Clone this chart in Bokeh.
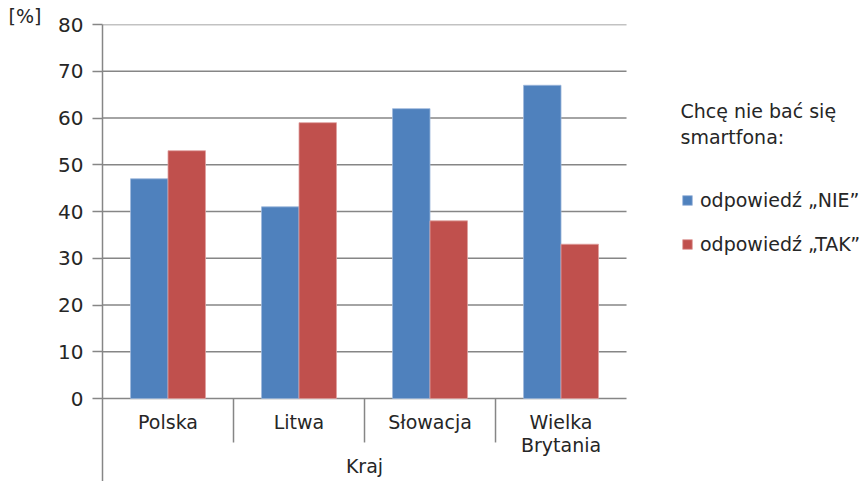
from bokeh.plotting import figure
from bokeh.models import Range1d, FixedTicker, Label, Legend, LegendItem, ColumnDataSource
from bokeh.transform import dodge
from bokeh.core.properties import value
from bokeh.embed import file_html
from bokeh.resources import INLINE

# ---- data ----
categories = ["Polska", "Litwa", "Słowacja", "Wielka\nBrytania"]
nie = [47, 41, 62, 67]
tak = [53, 59, 38, 33]
y_ticks = [0, 10, 20, 30, 40, 50, 60, 70, 80]
series_labels = ["odpowiedź „NIE”", "odpowiedź „TAK”"]
legend_title = ["Chcę nie bać się", "smartfona:"]
x_title = "Kraj"
y_title = "[%]"

FONT = "DejaVu Sans"
TXT = "#262626"
GRID = "#868686"
BLUE = "#4F81BD"
RED = "#C0504D"

ncat = len(categories)
centers = [i + 0.5 for i in range(ncat)]
src = ColumnDataSource(dict(x=centers, nie=nie, tak=tak, cat=categories))

# frame: x from 102px (0) with 131px per category, y: 4.675px per unit, 0 at 398px
p = figure(width=860, height=481, output_backend="svg", toolbar_location=None,
           x_axis_location=None, y_axis_location="left",
           x_range=Range1d(0, 5.786), y_range=Range1d(-17.75, 80),
           min_border_left=102, min_border_right=0, min_border_top=24, min_border_bottom=0)
p.outline_line_color = None
p.background_fill_color = "white"
p.xgrid.visible = False
p.ygrid.visible = False

p.title.text = y_title
p.title.align = "left"
p.title.offset = -94
p.title.standoff = -4
p.title.text_font = FONT
p.title.text_font_size = "19px"
p.title.text_font_style = "normal"
p.title.text_color = TXT

ax = p.yaxis[0]
ax.ticker = FixedTicker(ticks=y_ticks, minor_ticks=[])
ax.axis_line_color = GRID
ax.axis_line_width = 1.5
ax.major_tick_line_color = GRID
ax.major_tick_line_width = 1.5
ax.major_tick_out = 10
ax.major_tick_in = 0
ax.minor_tick_line_color = None
ax.major_label_standoff = 9
ax.major_label_text_font = FONT
ax.major_label_text_font_size = "20px"
ax.major_label_text_color = TXT

# horizontal gridlines over the category area only
p.segment(x0=[0] * len(y_ticks), y0=y_ticks, x1=[ncat] * len(y_ticks), y1=y_ticks,
          line_color=GRID, line_width=1.5)

bw = 0.286
r1 = p.vbar(x=dodge("x", -bw / 2, range=p.x_range), top="nie", width=bw, source=src,
            fill_color=BLUE, line_color="#9db8dc", line_width=0.8)
r2 = p.vbar(x=dodge("x", bw / 2, range=p.x_range), top="tak", width=bw, source=src,
            fill_color=RED, line_color="#e0a09e", line_width=0.8)

# category separators below the plot area
seps = list(range(1, ncat))
p.segment(x0=seps, y0=[0] * len(seps), x1=seps, y1=[-9.4] * len(seps),
          line_color=GRID, line_width=1.5)

# category labels
p.text(x="x", y=-2.6, text="cat", source=src, text_align="center", text_baseline="top",
       text_font=value(FONT), text_font_size="19px", text_color=TXT, text_line_height=1.05)

p.add_layout(Label(x=ncat / 2, y=-14.5, text=x_title, text_align="center",
                   text_baseline="middle", text_font=FONT, text_font_size="19px", text_color=TXT))

p.add_layout(Label(x=4.412, y=61.5, text=legend_title[0], text_align="left",
                   text_baseline="alphabetic", text_font=FONT, text_font_size="19px", text_color=TXT))
p.add_layout(Label(x=4.412, y=56.0, text=legend_title[1], text_align="left",
                   text_baseline="alphabetic", text_font=FONT, text_font_size="19px", text_color=TXT))

legend = Legend(items=[LegendItem(label=series_labels[0], renderers=[r1]),
                       LegendItem(label=series_labels[1], renderers=[r2])],
                location=(579, 226))
legend.background_fill_alpha = 0
legend.border_line_color = None
legend.padding = 0
legend.margin = 0
legend.spacing = 22
legend.glyph_width = 12
legend.glyph_height = 12
legend.label_height = 20
legend.label_standoff = 7
legend.label_text_font = FONT
legend.label_text_font_size = "19px"
legend.label_text_color = TXT
p.add_layout(legend)

open("out.html", "w").write(file_html(p, INLINE))
